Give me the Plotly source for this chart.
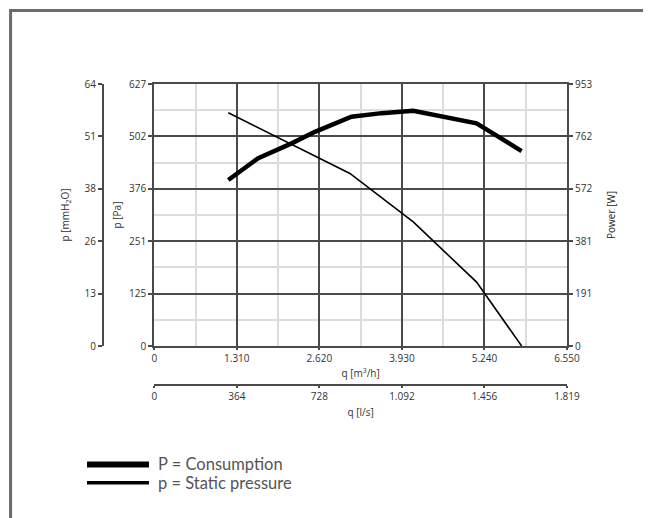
import plotly.graph_objects as go

# ---- data ----
# airflow q [m3/h]
q_power = [1175, 1650, 2180, 2550, 3130, 3610, 4110, 5115, 5830]
power_w = [604, 683, 737, 779, 834, 847, 856, 810, 709]

q_static = [1175, 3105, 4110, 5115, 5830]
static_pa = [558, 413, 297, 153, 0]

# axes
q_max = 6550
q_ls_max = 1819.4
pa_max = 627
mmh2o_max = 63.93
power_max = 953

q_ticks = ["0", "1.310", "2.620", "3.930", "5.240", "6.550"]
q_ls_ticks = ["0", "364", "728", "1.092", "1.456", "1.819"]
pa_ticks = ["0", "125", "251", "376", "502", "627"]
mmh2o_ticks = ["0", "13", "26", "38", "51", "64"]
power_ticks = ["0", "191", "381", "572", "762", "953"]

legend_labels = ["P = Consumption", "p = Static pressure"]

# ---- geometry helpers (page pixel coords; page body has 8px margin) ----
OFF = 8
W, H = 651 - OFF, 518 - OFF
ML = 103 - OFF
MT = 84 - OFF
MR = W - (567.5 - OFF)
MB = H - (385 - OFF)
PW = W - ML - MR
PH = H - MT - MB


def px_x(px):
    return (px - OFF - ML) / PW


def px_y(py):
    return (H - MB - (py - OFF)) / PH


def steps(vmax, n=5):
    return [vmax * i / n for i in range(n + 1)]


def mids(vmax, n=5):
    return [vmax * (i + 0.5) / n for i in range(n)]


DARK = "#4a4a4a"
LIGHT = "#dcdcdc"
TXT = "#333333"
FONT = "Open Sans"

fig = go.Figure()

fig.add_trace(go.Scatter(x=q_static, y=static_pa, mode="lines",
                         line=dict(color="black", width=1.6),
                         xaxis="x", yaxis="y", showlegend=False, hoverinfo="skip"))
fig.add_trace(go.Scatter(x=q_power, y=power_w, mode="lines",
                         line=dict(color="black", width=4.5),
                         xaxis="x", yaxis="y2", showlegend=False, hoverinfo="skip"))
# helper traces so auxiliary axes render
fig.add_trace(go.Scatter(x=[0, q_ls_max], y=[0, 0], mode="lines", line=dict(width=0),
                         opacity=0, xaxis="x2", yaxis="y", showlegend=False, hoverinfo="skip"))
fig.add_trace(go.Scatter(x=[0, q_max], y=[0, 0], mode="lines", line=dict(width=0),
                         opacity=0, xaxis="x", yaxis="y3", showlegend=False, hoverinfo="skip"))

tickfont = dict(family=FONT, size=10, color=TXT)
titlefont = dict(family=FONT, size=10, color=TXT)

x_dom0 = px_x(154.3)
y_dom0 = px_y(346)

common_axis = dict(showline=True, linecolor=DARK, linewidth=2, ticks="outside",
                   ticklen=4, tickwidth=1.5, tickcolor=DARK, tickfont=tickfont,
                   zeroline=False, fixedrange=True)
x_axis_style = dict(common_axis, ticklen=2)

fig.update_layout(
    width=W, height=H,
    margin=dict(l=ML, r=MR, t=MT, b=MB, pad=0),
    paper_bgcolor="white", plot_bgcolor="white",
    xaxis=dict(domain=[x_dom0, 1], range=[0, q_max], anchor="y",
               tickmode="array", tickvals=steps(q_max), ticktext=q_ticks,
               showgrid=True, gridcolor=DARK, gridwidth=1.8, mirror=True,
               minor=dict(tickmode="array", tickvals=mids(q_max), showgrid=True,
                          gridcolor=LIGHT, gridwidth=1.5, ticks=""),
               title=dict(text="q [m<sup>3</sup>/h]", font=titlefont, standoff=6),
               **x_axis_style),
    xaxis2=dict(overlaying="x", anchor="free", position=0, side="bottom",
                range=[0, q_ls_max], tickmode="array", tickvals=steps(q_ls_max),
                ticktext=q_ls_ticks, showgrid=False,
                title=dict(text="q [l/s]", font=titlefont, standoff=6),
                **x_axis_style),
    yaxis=dict(domain=[y_dom0, 1], range=[0, pa_max], anchor="x",
               tickmode="array", tickvals=steps(pa_max), ticktext=pa_ticks,
               showgrid=True, gridcolor=DARK, gridwidth=1.8, mirror=True,
               minor=dict(tickmode="array", tickvals=mids(pa_max), showgrid=True,
                          gridcolor=LIGHT, gridwidth=1.5, ticks=""),
               title=dict(text="p [Pa]", font=titlefont, standoff=6),
               **common_axis),
    yaxis2=dict(overlaying="y", side="right", anchor="x", range=[0, power_max],
                tickmode="array", tickvals=steps(power_max), ticktext=power_ticks,
                showgrid=False,
                title=dict(text="Power [W]", font=dict(family=FONT, size=10, color="#222"), standoff=17),
                **common_axis),
    yaxis3=dict(overlaying="y", side="left", anchor="free", position=0,
                range=[0, mmh2o_max], tickmode="array", tickvals=steps(mmh2o_max),
                ticktext=mmh2o_ticks, showgrid=False,
                title=dict(text="p [mmH<sub>2</sub>O]", font=titlefont, standoff=12),
                **common_axis),
)

# outer frame
fig.add_shape(type="rect", xref="paper", yref="paper",
              x0=px_x(10.5), x1=px_x(645.5), y0=px_y(540), y1=px_y(10.5),
              line=dict(color="#6b6b6b", width=3), fillcolor="rgba(0,0,0,0)", layer="above")

# legend
fig.add_shape(type="rect", xref="paper", yref="paper",
              x0=px_x(87), x1=px_x(149), y0=px_y(467.5), y1=px_y(461.5),
              line=dict(width=0), fillcolor="black")
fig.add_shape(type="rect", xref="paper", yref="paper",
              x0=px_x(87), x1=px_x(149), y0=px_y(484.5), y1=px_y(481),
              line=dict(width=0), fillcolor="black")
for label, py in zip(legend_labels, [463.5, 483]):
    fig.add_annotation(text=label, xref="paper", yref="paper", x=px_x(156), y=px_y(py),
                       xanchor="left", yanchor="middle", showarrow=False,
                       font=dict(family="Lato", size=16.5, color="#555555"))

fig.write_html("out.html")
